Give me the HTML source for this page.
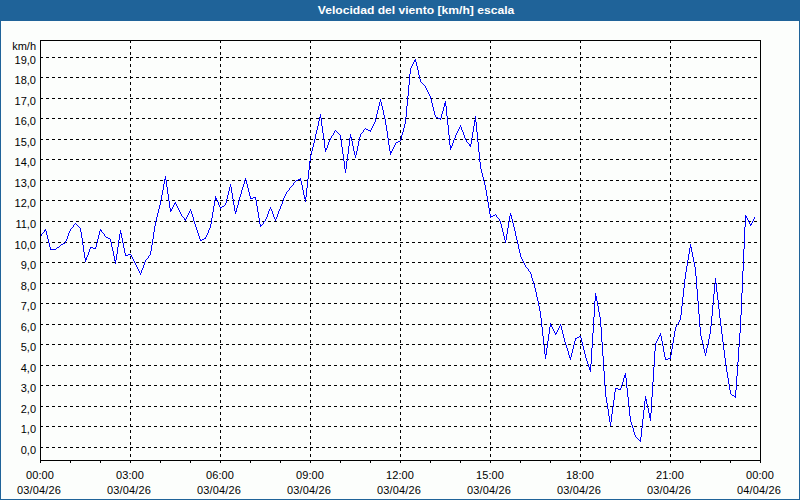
<!DOCTYPE html>
<html><head><meta charset="utf-8"><title>Velocidad del viento</title>
<style>
html,body{margin:0;padding:0;background:#fcfefc;}
body{width:800px;height:500px;overflow:hidden;position:relative;font-family:"Liberation Sans",sans-serif;}
#bar{position:absolute;left:0;top:0;width:800px;height:21px;background:#1f6399;}
#ttl{position:absolute;left:0;top:0;width:832px;height:21px;line-height:21px;text-align:center;color:#fff;font-weight:bold;font-size:11.5px;white-space:nowrap;transform:scaleX(1.053);transform-origin:416px 0;}
#frm{position:absolute;left:0;top:0;width:798px;height:498px;border:1px solid #1f6399;}
svg{position:absolute;left:0;top:0;}
.t{position:absolute;font-size:11px;line-height:12px;color:#000;white-space:nowrap;}
.y{width:36px;left:0;text-align:right;}
.x{width:60px;text-align:center;letter-spacing:0.12px;}
</style></head><body>
<div id="bar"></div><div id="frm"></div><div id="ttl">Velocidad del viento [km/h] escala</div>
<svg width="800" height="500" viewBox="0 0 800 500" shape-rendering="crispEdges">
<g stroke="#000" stroke-width="1" stroke-dasharray="3 3" fill="none">
<path d="M40 447.5H757"/><path d="M40 426.5H757"/><path d="M40 406.5H757"/><path d="M40 385.5H757"/><path d="M40 365.5H757"/><path d="M40 344.5H757"/><path d="M40 324.5H757"/><path d="M40 303.5H757"/><path d="M40 283.5H757"/><path d="M40 262.5H757"/><path d="M40 242.5H757"/><path d="M40 221.5H757"/><path d="M40 200.5H757"/><path d="M40 180.5H757"/><path d="M40 159.5H757"/><path d="M40 139.5H757"/><path d="M40 118.5H757"/><path d="M40 98.5H757"/><path d="M40 77.5H757"/><path d="M40 57.5H757"/>
<path d="M130.5 40V460"/><path d="M220.5 40V460"/><path d="M310.5 40V460"/><path d="M400.5 40V460"/><path d="M490.5 40V460"/><path d="M580.5 40V460"/><path d="M670.5 40V460"/>
</g>
<path d="M40.5 236v1M41.5 234v2M42.5 233v1M43.5 232v1M44.5 230v2M45.5 229v2M46.5 231v4M47.5 235v4M48.5 239v4M49.5 243v4M50.5 247v3M51.5 249v1M52.5 249v1M53.5 249v1M54.5 249v1M55.5 249v1M56.5 248v1M57.5 247v1M58.5 247v1M59.5 246v1M60.5 245v1M61.5 244v1M62.5 244v1M63.5 243v1M64.5 243v1M65.5 241v2M66.5 239v2M67.5 236v3M68.5 233v3M69.5 231v2M70.5 229v2M71.5 228v1M72.5 227v1M73.5 225v2M74.5 224v1M75.5 223v1M76.5 224v1M77.5 225v1M78.5 226v1M79.5 227v1M80.5 228v4M81.5 232v6M82.5 238v7M83.5 245v7M84.5 252v6M85.5 258v4M86.5 257v3M87.5 255v2M88.5 252v3M89.5 249v3M90.5 247v2M91.5 247v1M92.5 247v1M93.5 248v1M94.5 248v1M95.5 247v2M96.5 243v4M97.5 239v4M98.5 235v4M99.5 231v4M100.5 229v2M101.5 230v2M102.5 232v1M103.5 233v1M104.5 234v2M105.5 236v1M106.5 237v1M107.5 237v1M108.5 238v1M109.5 238v1M110.5 239v3M111.5 242v5M112.5 247v4M113.5 251v5M114.5 256v5M115.5 260v4M116.5 254v6M117.5 247v7M118.5 240v7M119.5 234v6M120.5 230v4M121.5 233v5M122.5 238v5M123.5 243v5M124.5 248v5M125.5 253v3M126.5 255v1M127.5 255v1M128.5 254v1M129.5 254v1M130.5 254v1M131.5 255v2M132.5 257v2M133.5 259v2M134.5 261v2M135.5 263v2M136.5 265v2M137.5 267v2M138.5 269v2M139.5 271v2M140.5 273v2M141.5 270v3M142.5 268v2M143.5 265v3M144.5 262v3M145.5 260v2M146.5 259v1M147.5 258v1M148.5 256v2M149.5 255v1M150.5 251v4M151.5 245v6M152.5 239v6M153.5 232v7M154.5 226v6M155.5 221v5M156.5 217v4M157.5 213v4M158.5 209v4M159.5 205v4M160.5 200v5M161.5 195v5M162.5 190v5M163.5 184v6M164.5 179v5M165.5 176v4M166.5 180v7M167.5 187v7M168.5 194v7M169.5 201v7M170.5 208v4M171.5 209v2M172.5 207v2M173.5 205v2M174.5 203v2M175.5 202v2M176.5 204v2M177.5 206v2M178.5 208v2M179.5 210v2M180.5 212v2M181.5 214v2M182.5 216v1M183.5 217v1M184.5 218v2M185.5 219v2M186.5 217v2M187.5 215v2M188.5 213v2M189.5 211v2M190.5 209v2M191.5 211v3M192.5 214v3M193.5 217v4M194.5 221v3M195.5 224v3M196.5 227v3M197.5 230v3M198.5 233v3M199.5 236v3M200.5 239v2M201.5 240v1M202.5 239v1M203.5 239v1M204.5 238v1M205.5 237v2M206.5 235v2M207.5 233v2M208.5 230v3M209.5 228v2M210.5 224v4M211.5 218v6M212.5 212v6M213.5 206v6M214.5 200v6M215.5 196v4M216.5 198v2M217.5 200v2M218.5 202v3M219.5 205v2M220.5 207v2M221.5 207v1M222.5 206v1M223.5 206v1M224.5 205v1M225.5 203v2M226.5 199v4M227.5 195v4M228.5 191v4M229.5 187v4M230.5 184v3M231.5 187v6M232.5 193v6M233.5 199v6M234.5 205v6M235.5 211v3M236.5 208v4M237.5 205v3M238.5 201v4M239.5 197v4M240.5 194v3M241.5 190v4M242.5 187v3M243.5 184v3M244.5 180v4M245.5 178v2M246.5 180v4M247.5 184v4M248.5 188v4M249.5 192v4M250.5 196v3M251.5 198v1M252.5 198v1M253.5 197v1M254.5 197v1M255.5 197v3M256.5 200v6M257.5 206v6M258.5 212v6M259.5 218v6M260.5 224v3M261.5 225v1M262.5 224v1M263.5 222v2M264.5 221v1M265.5 219v2M266.5 217v2M267.5 214v3M268.5 211v3M269.5 209v2M270.5 207v2M271.5 209v2M272.5 211v3M273.5 214v3M274.5 217v2M275.5 219v2M276.5 217v2M277.5 214v3M278.5 211v3M279.5 209v2M280.5 206v3M281.5 204v2M282.5 201v3M283.5 198v3M284.5 196v2M285.5 194v2M286.5 192v2M287.5 191v1M288.5 190v1M289.5 188v2M290.5 187v1M291.5 186v1M292.5 185v1M293.5 183v2M294.5 182v1M295.5 181v1M296.5 180v1M297.5 180v1M298.5 179v1M299.5 179v1M300.5 178v3M301.5 181v4M302.5 185v5M303.5 190v5M304.5 195v4M305.5 197v5M306.5 188v9M307.5 179v9M308.5 170v9M309.5 161v9M310.5 155v6M311.5 151v4M312.5 147v4M313.5 143v4M314.5 139v4M315.5 134v5M316.5 130v4M317.5 126v4M318.5 121v5M319.5 117v4M320.5 114v4M321.5 118v8M322.5 126v7M323.5 133v7M324.5 140v8M325.5 148v4M326.5 148v2M327.5 145v3M328.5 142v3M329.5 140v2M330.5 138v2M331.5 136v2M332.5 135v1M333.5 133v2M334.5 131v2M335.5 130v1M336.5 131v1M337.5 132v1M338.5 133v1M339.5 134v1M340.5 135v4M341.5 139v8M342.5 147v7M343.5 154v7M344.5 161v8M345.5 169v4M346.5 161v8M347.5 154v7M348.5 146v8M349.5 138v8M350.5 134v4M351.5 137v4M352.5 141v5M353.5 146v5M354.5 151v4M355.5 155v3M356.5 151v4M357.5 146v5M358.5 141v5M359.5 137v4M360.5 134v3M361.5 133v1M362.5 132v1M363.5 130v2M364.5 129v1M365.5 128v1M366.5 129v1M367.5 129v1M368.5 130v1M369.5 130v1M370.5 130v2M371.5 128v2M372.5 126v2M373.5 124v2M374.5 122v2M375.5 118v4M376.5 114v4M377.5 110v4M378.5 106v4M379.5 102v4M380.5 99v3M381.5 102v4M382.5 106v4M383.5 110v5M384.5 115v4M385.5 119v6M386.5 125v6M387.5 131v7M388.5 138v7M389.5 145v6M390.5 151v4M391.5 151v2M392.5 149v2M393.5 147v2M394.5 145v2M395.5 143v2M396.5 142v1M397.5 142v1M398.5 141v1M399.5 141v1M400.5 139v2M401.5 135v4M402.5 132v3M403.5 128v4M404.5 124v4M405.5 117v7M406.5 106v11M407.5 96v10M408.5 85v11M409.5 74v11M410.5 68v6M411.5 66v2M412.5 64v2M413.5 62v2M414.5 60v2M415.5 59v3M416.5 62v4M417.5 66v4M418.5 70v5M419.5 75v4M420.5 79v3M421.5 82v1M422.5 83v1M423.5 84v1M424.5 85v1M425.5 86v2M426.5 88v2M427.5 90v2M428.5 92v2M429.5 94v2M430.5 96v3M431.5 99v4M432.5 103v4M433.5 107v4M434.5 111v4M435.5 115v2M436.5 117v1M437.5 117v1M438.5 118v1M439.5 118v1M440.5 118v2M441.5 114v4M442.5 111v3M443.5 107v4M444.5 103v4M445.5 101v5M446.5 106v10M447.5 116v9M448.5 125v10M449.5 135v10M450.5 145v5M451.5 146v2M452.5 143v3M453.5 140v3M454.5 138v2M455.5 135v3M456.5 133v2M457.5 131v2M458.5 129v2M459.5 127v2M460.5 125v2M461.5 127v3M462.5 130v2M463.5 132v3M464.5 135v3M465.5 138v2M466.5 140v2M467.5 142v1M468.5 143v1M469.5 144v2M470.5 144v3M471.5 138v6M472.5 132v6M473.5 126v6M474.5 120v6M475.5 116v6M476.5 122v10M477.5 132v10M478.5 142v10M479.5 152v10M480.5 162v7M481.5 169v4M482.5 173v4M483.5 177v4M484.5 181v4M485.5 185v5M486.5 190v6M487.5 196v6M488.5 202v6M489.5 208v6M490.5 214v4M491.5 216v1M492.5 216v1M493.5 215v1M494.5 215v1M495.5 214v1M496.5 215v2M497.5 217v1M498.5 218v1M499.5 219v2M500.5 221v3M501.5 224v4M502.5 228v4M503.5 232v4M504.5 236v4M505.5 240v3M506.5 234v6M507.5 228v6M508.5 222v6M509.5 216v6M510.5 213v3M511.5 215v4M512.5 219v4M513.5 223v4M514.5 227v4M515.5 231v5M516.5 236v4M517.5 240v4M518.5 244v5M519.5 249v4M520.5 253v4M521.5 257v2M522.5 259v2M523.5 261v2M524.5 263v2M525.5 265v2M526.5 267v1M527.5 268v1M528.5 269v2M529.5 271v1M530.5 272v2M531.5 274v4M532.5 278v3M533.5 281v3M534.5 284v4M535.5 288v4M536.5 292v5M537.5 297v4M538.5 301v5M539.5 306v5M540.5 311v7M541.5 318v9M542.5 327v9M543.5 336v9M544.5 345v9M545.5 354v5M546.5 348v7M547.5 341v7M548.5 334v7M549.5 327v7M550.5 323v4M551.5 325v2M552.5 327v2M553.5 329v2M554.5 331v2M555.5 333v2M556.5 332v2M557.5 330v2M558.5 328v2M559.5 326v2M560.5 324v2M561.5 326v4M562.5 330v4M563.5 334v4M564.5 338v4M565.5 342v3M566.5 345v3M567.5 348v3M568.5 351v4M569.5 355v3M570.5 357v3M571.5 353v4M572.5 349v4M573.5 345v4M574.5 341v4M575.5 338v3M576.5 338v1M577.5 337v1M578.5 337v1M579.5 336v1M580.5 336v2M581.5 338v4M582.5 342v4M583.5 346v4M584.5 350v4M585.5 354v4M586.5 358v3M587.5 361v3M588.5 364v3M589.5 367v3M590.5 364v8M591.5 348v16M592.5 333v15M593.5 317v16M594.5 301v16M595.5 293v8M596.5 296v5M597.5 301v5M598.5 306v6M599.5 312v5M600.5 317v10M601.5 327v15M602.5 342v14M603.5 356v15M604.5 371v15M605.5 386v11M606.5 397v6M607.5 403v6M608.5 409v7M609.5 416v6M610.5 422v4M611.5 414v8M612.5 407v7M613.5 400v7M614.5 392v8M615.5 388v4M616.5 388v1M617.5 388v1M618.5 389v1M619.5 389v1M620.5 388v2M621.5 385v3M622.5 382v3M623.5 378v4M624.5 375v3M625.5 373v5M626.5 378v10M627.5 388v9M628.5 397v9M629.5 406v10M630.5 416v6M631.5 422v3M632.5 425v3M633.5 428v4M634.5 432v3M635.5 435v2M636.5 437v1M637.5 438v1M638.5 439v1M639.5 440v1M640.5 437v5M641.5 428v9M642.5 419v9M643.5 410v9M644.5 401v9M645.5 396v5M646.5 399v5M647.5 404v4M648.5 408v5M649.5 413v5M650.5 413v8M651.5 397v16M652.5 382v15M653.5 367v15M654.5 351v16M655.5 343v8M656.5 341v2M657.5 339v2M658.5 337v2M659.5 335v2M660.5 333v3M661.5 336v5M662.5 341v5M663.5 346v6M664.5 352v5M665.5 357v3M666.5 359v1M667.5 359v1M668.5 358v1M669.5 358v1M670.5 355v4M671.5 349v6M672.5 343v6M673.5 337v6M674.5 331v6M675.5 327v4M676.5 325v2M677.5 324v1M678.5 322v2M679.5 320v2M680.5 315v5M681.5 306v9M682.5 297v9M683.5 288v9M684.5 279v9M685.5 272v7M686.5 266v6M687.5 260v6M688.5 254v6M689.5 248v6M690.5 244v4M691.5 247v5M692.5 252v5M693.5 257v5M694.5 262v5M695.5 267v9M696.5 276v13M697.5 289v12M698.5 301v13M699.5 314v13M700.5 327v9M701.5 336v4M702.5 340v4M703.5 344v5M704.5 349v4M705.5 353v3M706.5 348v5M707.5 344v4M708.5 339v5M709.5 334v5M710.5 326v8M711.5 316v10M712.5 305v11M713.5 294v11M714.5 284v10M715.5 278v6M716.5 283v9M717.5 292v8M718.5 300v9M719.5 309v9M720.5 318v8M721.5 326v8M722.5 334v8M723.5 342v8M724.5 350v8M725.5 358v8M726.5 366v6M727.5 372v6M728.5 378v6M729.5 384v6M730.5 390v4M731.5 394v1M732.5 395v1M733.5 395v1M734.5 396v1M735.5 390v8M736.5 376v14M737.5 362v14M738.5 347v15M739.5 333v14M740.5 315v18M741.5 293v22M742.5 271v22M743.5 249v22M744.5 227v22M745.5 215v12M746.5 216v2M747.5 218v2M748.5 220v2M749.5 222v2M750.5 224v2M751.5 223v2M752.5 221v2M753.5 219v2M754.5 217v2" fill="none" stroke="#0000ff" stroke-width="1"/>
<g stroke="#000" stroke-width="1" fill="none">
<path d="M40.5 40.5H760.5V460.5H40.5Z"/>
<path d="M40.5 460V463M70.5 460V463M100.5 460V463M130.5 460V463M160.5 460V463M190.5 460V463M220.5 460V463M250.5 460V463M280.5 460V463M310.5 460V463M340.5 460V463M370.5 460V463M400.5 460V463M430.5 460V463M460.5 460V463M490.5 460V463M520.5 460V463M550.5 460V463M580.5 460V463M610.5 460V463M640.5 460V463M670.5 460V463M700.5 460V463M730.5 460V463M760.5 460V463"/>
</g>
</svg>
<div class="t y" style="top:40px">km/h</div>
<div class="t y" style="top:444px">0,0</div><div class="t y" style="top:423px">1,0</div><div class="t y" style="top:403px">2,0</div><div class="t y" style="top:382px">3,0</div><div class="t y" style="top:362px">4,0</div><div class="t y" style="top:341px">5,0</div><div class="t y" style="top:321px">6,0</div><div class="t y" style="top:300px">7,0</div><div class="t y" style="top:280px">8,0</div><div class="t y" style="top:259px">9,0</div><div class="t y" style="top:239px">10,0</div><div class="t y" style="top:218px">11,0</div><div class="t y" style="top:197px">12,0</div><div class="t y" style="top:177px">13,0</div><div class="t y" style="top:156px">14,0</div><div class="t y" style="top:136px">15,0</div><div class="t y" style="top:115px">16,0</div><div class="t y" style="top:95px">17,0</div><div class="t y" style="top:74px">18,0</div><div class="t y" style="top:54px">19,0</div>
<div class="t x" style="left:10px;top:469px">00:00</div><div class="t x" style="left:9px;top:484px">03/04/26</div><div class="t x" style="left:100px;top:469px">03:00</div><div class="t x" style="left:99px;top:484px">03/04/26</div><div class="t x" style="left:190px;top:469px">06:00</div><div class="t x" style="left:189px;top:484px">03/04/26</div><div class="t x" style="left:280px;top:469px">09:00</div><div class="t x" style="left:279px;top:484px">03/04/26</div><div class="t x" style="left:370px;top:469px">12:00</div><div class="t x" style="left:369px;top:484px">03/04/26</div><div class="t x" style="left:460px;top:469px">15:00</div><div class="t x" style="left:459px;top:484px">03/04/26</div><div class="t x" style="left:550px;top:469px">18:00</div><div class="t x" style="left:549px;top:484px">03/04/26</div><div class="t x" style="left:640px;top:469px">21:00</div><div class="t x" style="left:639px;top:484px">03/04/26</div><div class="t x" style="left:730px;top:469px">00:00</div><div class="t x" style="left:729px;top:484px">04/04/26</div>
</body></html>
